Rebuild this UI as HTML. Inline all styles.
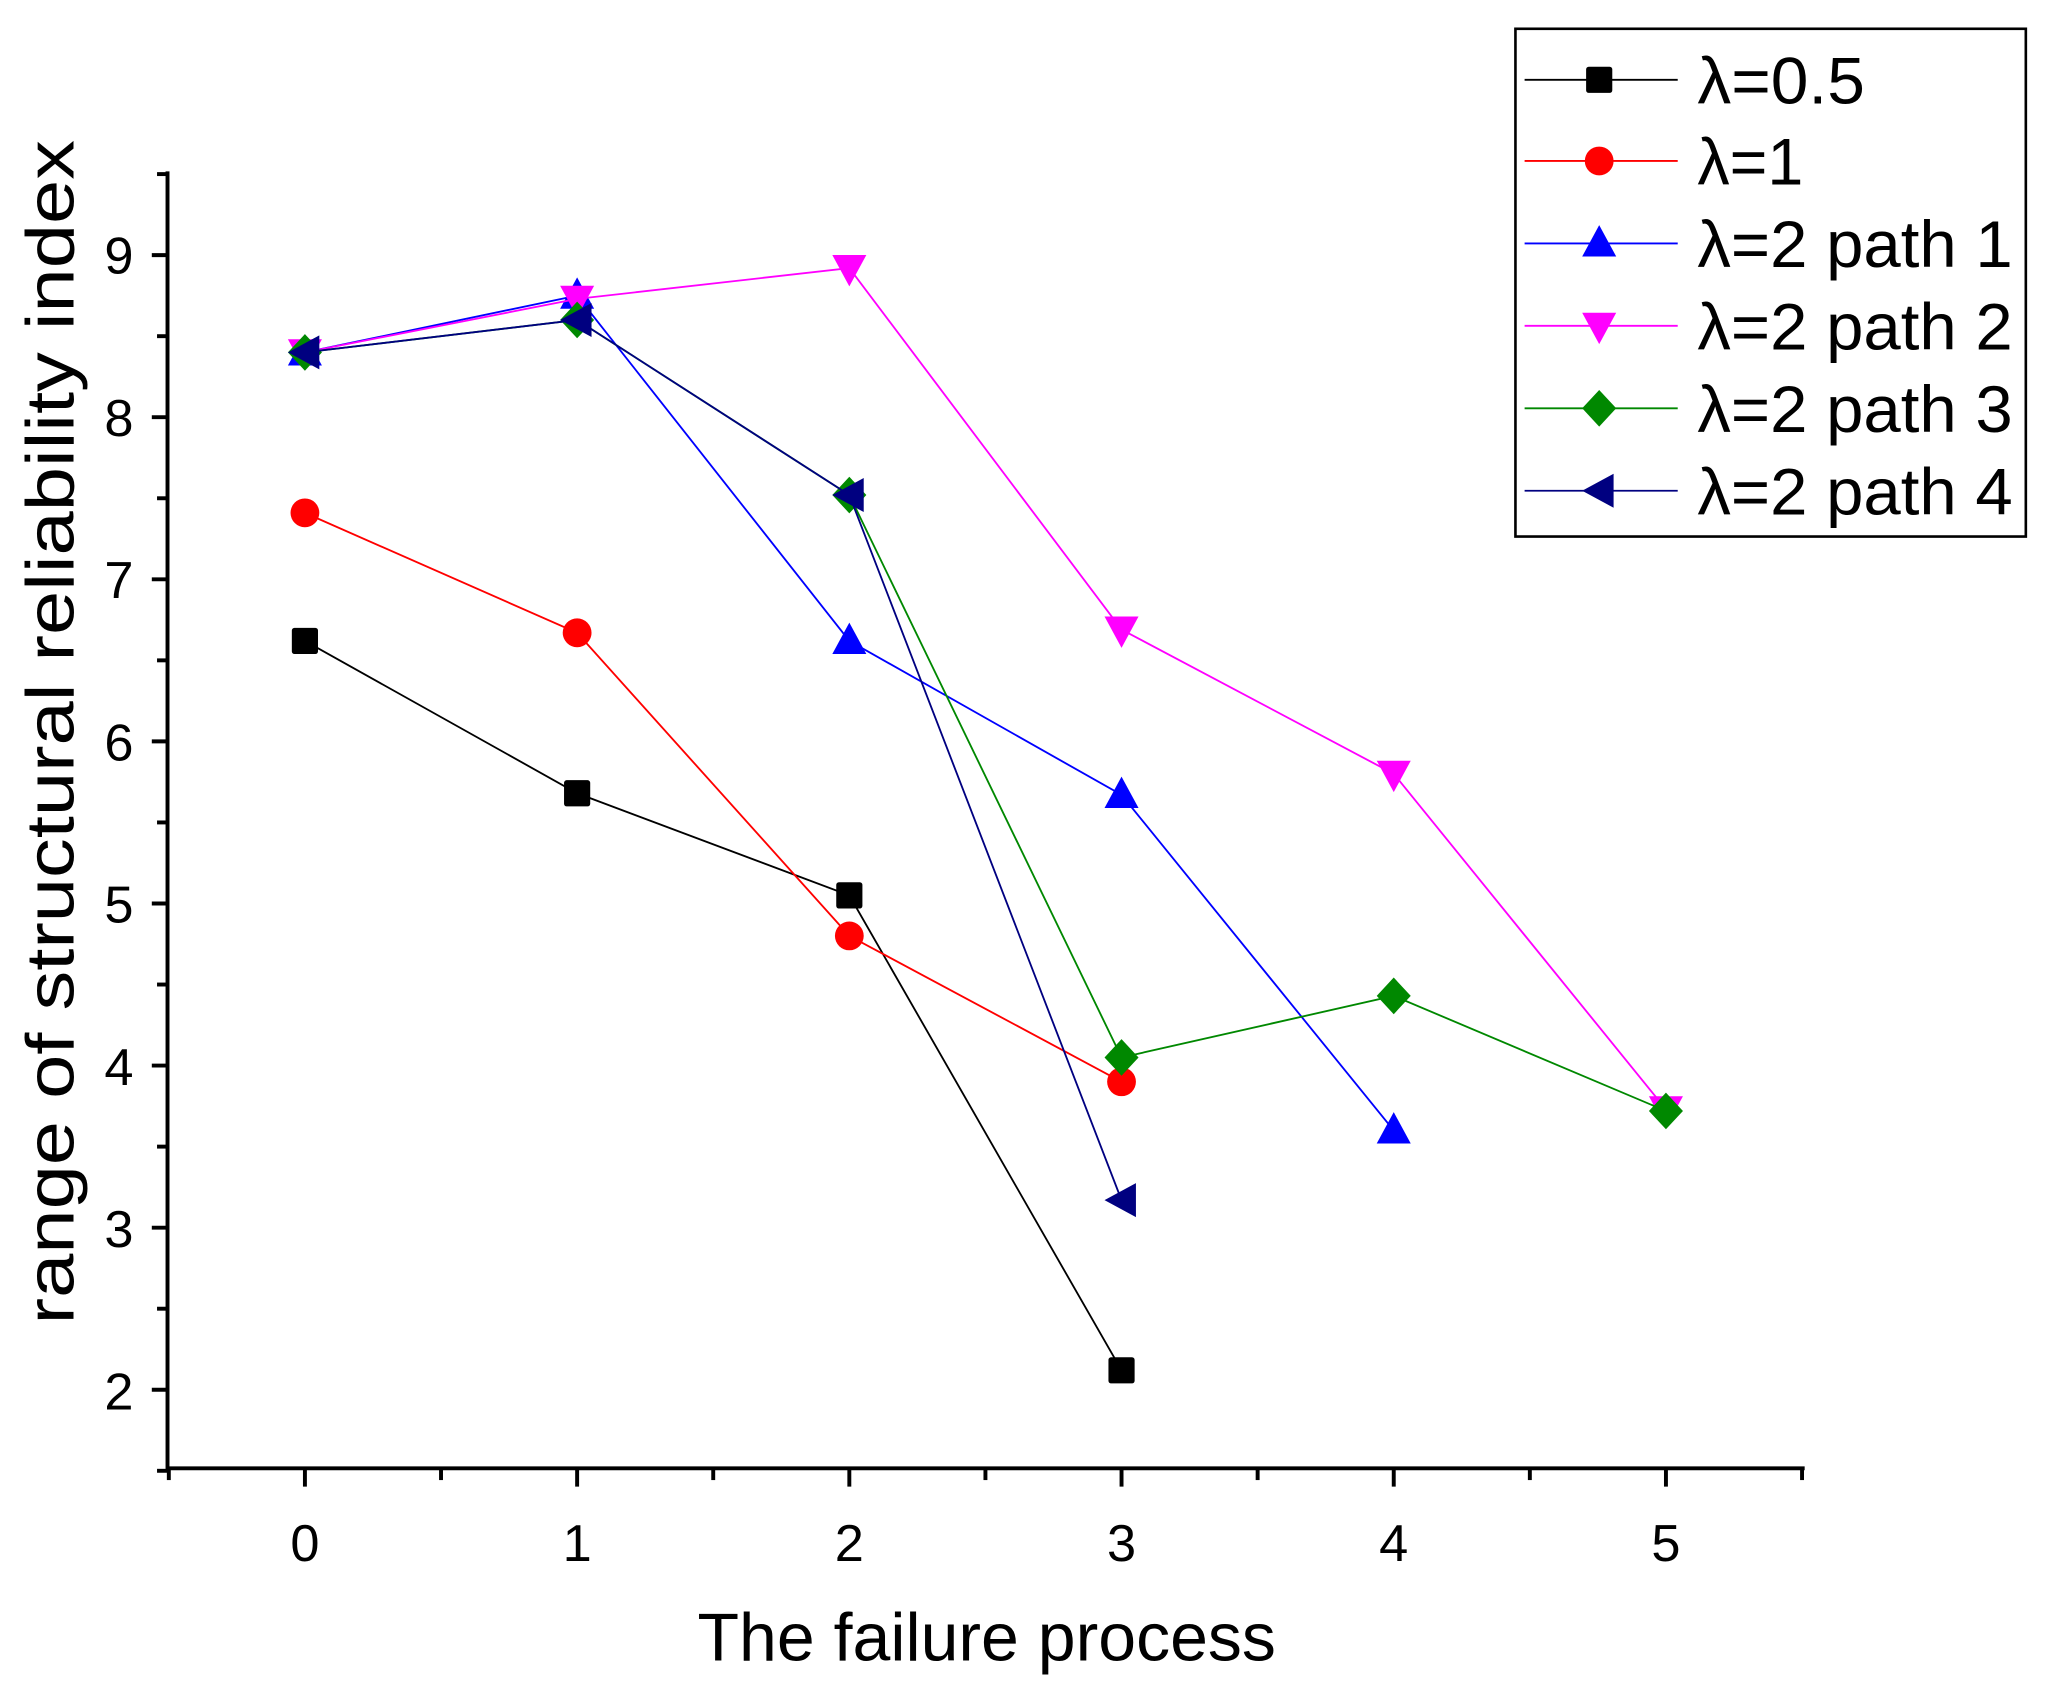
<!DOCTYPE html>
<html><head><meta charset="utf-8"><style>html,body{margin:0;padding:0;background:#fff}svg{display:block}</style></head>
<body>
<svg id="s" width="2052" height="1696" viewBox="0 0 1568 1296" preserveAspectRatio="none" xmlns="http://www.w3.org/2000/svg" font-family="Liberation Sans, Arial, sans-serif">
<rect width="1568" height="1296" fill="#fff"/>
<g id="axes" stroke="#000" stroke-width="3" fill="none">
<line x1="128" y1="131" x2="128" y2="1123"/>
<line x1="127" y1="1122" x2="1379" y2="1122"/>
</g>
<g font-size="40" fill="#000" text-anchor="end">
<text x="102" y="209">9</text><text x="102" y="333">8</text><text x="102" y="457">7</text><text x="102" y="581">6</text><text x="102" y="705">5</text><text x="102" y="829">4</text><text x="102" y="953">3</text><text x="102" y="1077">2</text>
</g>
<g font-size="40" fill="#000" text-anchor="middle">
<text x="233" y="1193">0</text><text x="441" y="1193">1</text><text x="649" y="1193">2</text><text x="857" y="1193">3</text><text x="1065" y="1193">4</text><text x="1273" y="1193">5</text>
</g>
<text x="533" y="1269" font-size="52" textLength="442" lengthAdjust="spacingAndGlyphs">The failure process</text>
<text transform="translate(56,1012) rotate(-90)" font-size="52" textLength="905" lengthAdjust="spacingAndGlyphs">range of structural reliability index</text>
<g id="series"></g>
<rect x="1158" y="22" width="390" height="388" fill="none" stroke="#000" stroke-width="2"/>
<g font-size="50" fill="#000">
<text x="1297" y="79" textLength="128" lengthAdjust="spacingAndGlyphs">λ=0.5</text>
<text x="1297" y="141" textLength="81" lengthAdjust="spacingAndGlyphs">λ=1</text>
<text x="1297" y="204" textLength="241" lengthAdjust="spacingAndGlyphs">λ=2 path 1</text>
<text x="1297" y="267" textLength="241" lengthAdjust="spacingAndGlyphs">λ=2 path 2</text>
<text x="1297" y="330" textLength="241" lengthAdjust="spacingAndGlyphs">λ=2 path 3</text>
<text x="1297" y="393" textLength="241" lengthAdjust="spacingAndGlyphs">λ=2 path 4</text>
</g>
<g id="leg"></g>
</svg>
<script>
var NS="http://www.w3.org/2000/svg",s=document.getElementById('series'),lg=document.getElementById('leg'),ax=document.getElementById('axes');
function X(v){return 233+208*v}function Y(v){return 1309.7-123.86*v}
function el(p,t,a){var e=document.createElementNS(NS,t);for(var k in a)e.setAttribute(k,a[k]);p.appendChild(e);return e}
for(var v=1.5;v<=9.5;v+=0.5){var y=Y(v);el(ax,'line',{x1:v%1?120:116,y1:y,x2:128,y2:y});}
for(var v=-0.5;v<=5.5;v+=0.5){var x=X(v);el(ax,'line',{x1:x,y1:1122,x2:x,y2:(Math.abs(v%1)>0.1)?1131:1136});}
function marker(p,t,x,y,c){
 if(t=='sq')el(p,'rect',{x:x-10,y:y-10,width:20,height:20,rx:2,fill:c});
 else if(t=='ci')el(p,'circle',{cx:x,cy:y,r:11,fill:c});
 else if(t=='up')el(p,'polygon',{points:(x)+','+(y-14)+' '+(x-13)+','+(y+10)+' '+(x+13)+','+(y+10),fill:c});
 else if(t=='dn')el(p,'polygon',{points:(x)+','+(y+14)+' '+(x-13)+','+(y-10)+' '+(x+13)+','+(y-10),fill:c});
 else if(t=='di')el(p,'polygon',{points:x+','+(y-14)+' '+(x+13)+','+y+' '+x+','+(y+14)+' '+(x-13)+','+y,fill:c});
 else if(t=='lt')el(p,'polygon',{points:(x-13)+','+y+' '+(x+11)+','+(y-13)+' '+(x+11)+','+(y+13),fill:c});
}
var D=[
['#000','sq',[6.62,5.68,5.05,2.12]],
['#f00','ci',[7.41,6.67,4.80,3.90]],
['#00f','up',[8.4,8.75,6.62,5.67,3.6]],
['#f0f','dn',[8.4,8.73,8.92,6.69,5.80,3.73]],
['#080','di',[8.4,8.6,7.52,4.05,4.43,3.72]],
['#000080','lt',[8.4,8.6,7.52,3.17]]];
var ly=[61,123,186,249,312,375];
D.forEach(function(d,i){
 var pts=d[2].map(function(v,j){return X(j)+','+Y(v)}).join(' ');
 el(s,'polyline',{points:pts,fill:'none',stroke:d[0],'stroke-width':1.4});
 d[2].forEach(function(v,j){marker(s,d[1],X(j),Y(v),d[0])});
 el(lg,'line',{x1:1165,y1:ly[i],x2:1282,y2:ly[i],stroke:d[0],'stroke-width':1.4});
 marker(lg,d[1],1222,ly[i],d[0]);
});
</script>
</body></html>
